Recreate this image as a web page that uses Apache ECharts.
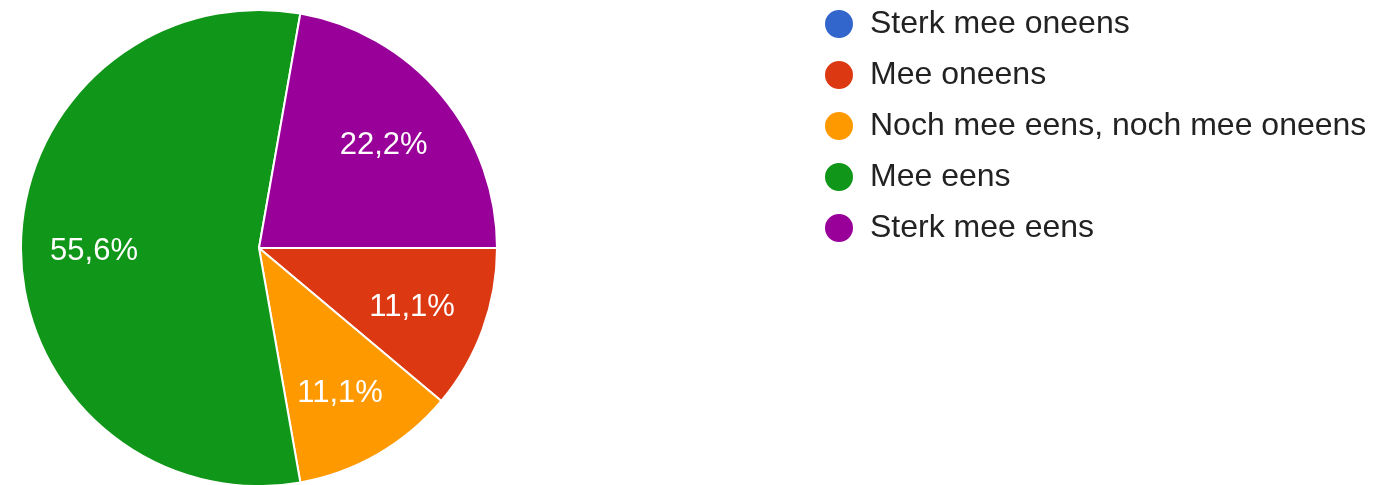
<!DOCTYPE html>
<html>
<head>
<meta charset="utf-8">
<script src="https://cdn.jsdelivr.net/npm/echarts@6/dist/echarts.min.js"></script>
<style>
  html, body { margin: 0; padding: 0; background: #fff; }
  #chart { width: 1376px; height: 485px; }
</style>
</head>
<body>
<div id="chart"></div>
<script>
  // answers (counts)
  const categories = [
    'Sterk mee oneens',
    'Mee oneens',
    'Noch mee eens, noch mee oneens',
    'Mee eens',
    'Sterk mee eens'
  ];
  const counts = [0, 1, 1, 5, 2];
  const colors = ['#3366cc', '#dc3912', '#ff9900', '#109618', '#990099'];

  const chart = echarts.init(document.getElementById('chart'));
  const font = '"Liberation Sans", Arial, Helvetica, sans-serif';

  const pieData = categories.map((name, i) => ({
    name: name,
    value: counts[i],
    itemStyle: { color: colors[i] }
  }));

  // transparent ring on top, only used to put the labels further out
  const labelData = categories.map((name, i) => ({
    name: name,
    value: counts[i],
    itemStyle: { color: 'rgba(0,0,0,0)', borderWidth: 0 },
    label: { show: counts[i] > 0 }
  }));

  const option = {
    animation: false,
    color: colors,
    legend: {
      orient: 'vertical',
      left: 823,
      top: 8,
      padding: 0,
      icon: 'circle',
      itemWidth: 30,
      itemHeight: 30,
      itemGap: 19,
      selectedMode: false,
      data: categories,
      textStyle: {
        fontFamily: font,
        fontSize: 32,
        lineHeight: 30,
        color: '#222',
        padding: [0, 0, 0, 11]
      }
    },
    series: [
      {
        type: 'pie',
        center: [259, 248],
        radius: 238,
        startAngle: 0,
        clockwise: true,
        silent: true,
        label: { show: false },
        labelLine: { show: false },
        itemStyle: { borderColor: '#fff', borderWidth: 2 },
        data: pieData
      },
      {
        type: 'pie',
        center: [258, 251],
        radius: [84, 238],
        startAngle: 0,
        clockwise: true,
        silent: true,
        labelLine: { show: false },
        label: {
          show: true,
          position: 'inside',
          color: '#fff',
          fontFamily: font,
          fontSize: 31,
          formatter: (p) => p.percent.toFixed(1).replace('.', ',') + '%'
        },
        data: labelData
      }
    ]
  };

  chart.setOption(option);
</script>
</body>
</html>
